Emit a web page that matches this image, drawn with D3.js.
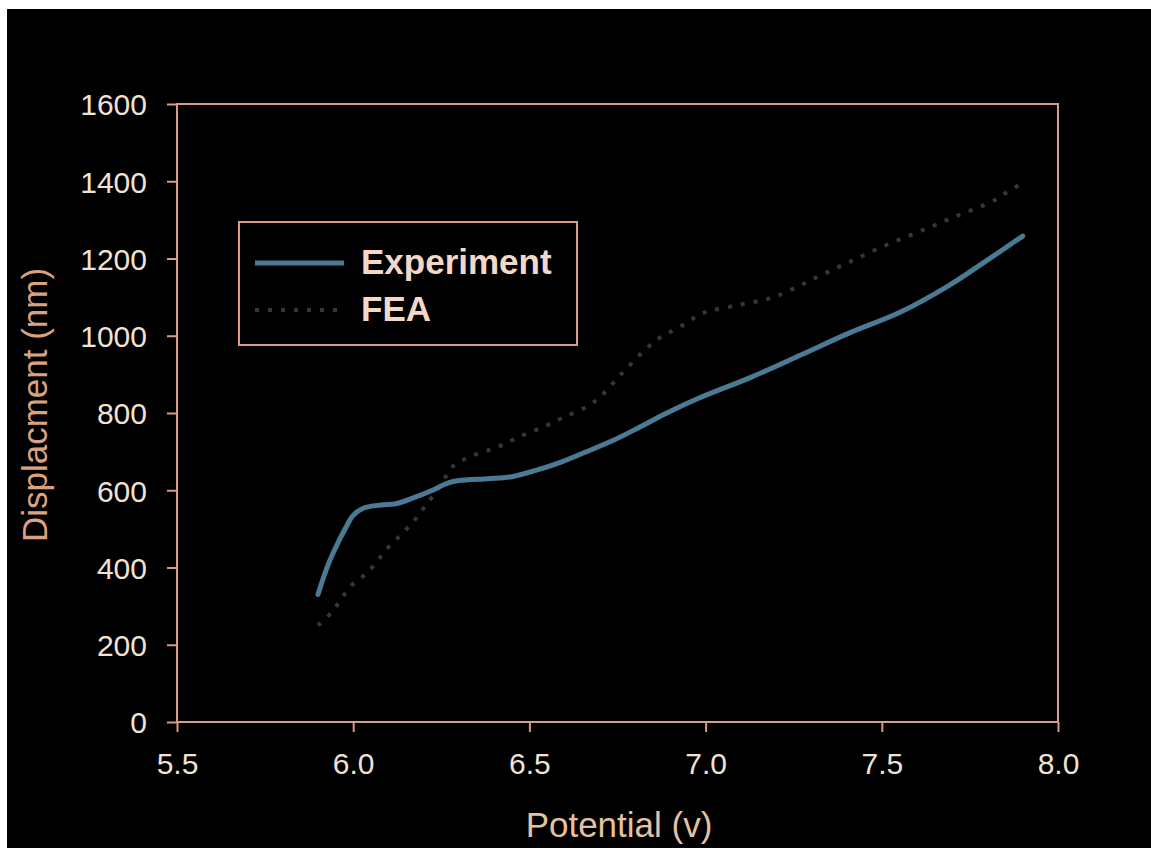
<!DOCTYPE html>
<html>
<head>
<meta charset="utf-8">
<script src="https://cdn.jsdelivr.net/npm/d3@7"></script>
<style>
  body { margin: 0; background: #fff; }
  svg { display: block; }
  text { font-family: "Liberation Sans", Arial, sans-serif; }
</style>
</head>
<body>
<script>
// data
const xTicks = [5.5, 6.0, 6.5, 7.0, 7.5, 8.0]
const yTicks = [0, 200, 400, 600, 800, 1000, 1200, 1400, 1600]

const expX = [5.90, 5.93, 5.96, 5.98, 6.00, 6.03, 6.08, 6.12, 6.17, 6.22, 6.27, 6.30, 6.38, 6.45, 6.52, 6.59, 6.66, 6.74, 6.81, 6.89, 6.98, 7.13, 7.27, 7.41, 7.55, 7.69, 7.79, 7.90]
const expY = [330, 410, 470, 505, 535, 554, 562, 565, 580, 598, 619, 625, 630, 635, 652, 673, 699, 730, 762, 800, 838, 893, 950, 1008, 1060, 1130, 1190, 1258]

const feaX = [5.90, 5.94, 5.97, 6.00, 6.04, 6.07, 6.10, 6.14, 6.17, 6.20, 6.25, 6.28, 6.34, 6.41, 6.47, 6.54, 6.60, 6.67, 6.71, 6.76, 6.83, 6.87, 6.91, 6.95, 6.98, 7.02, 7.09, 7.16, 7.20, 7.27, 7.34, 7.42, 7.50, 7.58, 7.64, 7.69, 7.74, 7.79, 7.83, 7.86, 7.90]
const feaY = [250, 285, 324, 358, 386, 419, 453, 489, 518, 554, 615, 660, 690, 712, 738, 764, 790, 820, 850, 900, 965, 995, 1015, 1035, 1054, 1066, 1079, 1092, 1102, 1131, 1162, 1196, 1230, 1260, 1282, 1302, 1320, 1338, 1356, 1375, 1395]

const seriesNames = ["Experiment", "FEA"]

const W = 1151, H = 848
const margin = {top: 104, right: 93, bottom: 126, left: 177}

const frameColor = "#d99a88"
const tickText = "#f0e2d6"
const expColor = "#4b7b94"
const feaColor = "#363636"

const svg = d3.select("body").append("svg")
  .attr("width", W).attr("height", H)

// black slide area, white strip top/left like the scan
svg.append("rect").attr("x", 7).attr("y", 9).attr("width", W).attr("height", H).attr("fill", "#000")

const x = d3.scaleLinear().domain([5.5, 8.0]).range([margin.left, W - margin.right])
const y = d3.scaleLinear().domain([0, 1600]).range([H - margin.bottom, margin.top])

// frame
svg.append("rect")
  .attr("x", x(5.5)).attr("y", y(1600))
  .attr("width", x(8.0) - x(5.5)).attr("height", y(0) - y(1600))
  .attr("fill", "none").attr("stroke", frameColor).attr("stroke-width", 2)

const yAxis = d3.axisLeft(y).tickValues(yTicks).tickSize(10).tickPadding(20).tickFormat(d3.format("d"))
const gy = svg.append("g").attr("transform", "translate(" + x(5.5) + ",0)").call(yAxis)
gy.select(".domain").remove()
gy.selectAll("line").attr("stroke", frameColor).attr("stroke-width", 2)
gy.selectAll("text").attr("fill", tickText).style("font-size", "30px").attr("dy", "0.36em")

const xAxis = d3.axisBottom(x).tickValues(xTicks).tickSize(10).tickPadding(21).tickFormat(d3.format(".1f"))
const gx = svg.append("g").attr("transform", "translate(0," + y(0) + ")").call(xAxis)
gx.select(".domain").remove()
gx.selectAll("line").attr("stroke", frameColor).attr("stroke-width", 2)
gx.selectAll("text").attr("fill", tickText).style("font-size", "30px")

// titles
svg.append("text")
  .attr("x", 619).attr("y", 837)
  .attr("text-anchor", "middle")
  .attr("fill", "#e3c2a2")
  .style("font-size", "35px")
  .text("Potential (v)")

svg.append("text")
  .attr("transform", "translate(47,405) rotate(-90)")
  .attr("text-anchor", "middle")
  .attr("fill", "#d9a383")
  .style("font-size", "35px")
  .text("Displacment (nm)")

// lines
const line = d3.line()
  .x(d => x(d[0])).y(d => y(d[1]))
  .curve(d3.curveCatmullRom.alpha(0.5))

const feaPts = feaX.map((v, i) => [v, feaY[i]])
const expPts = expX.map((v, i) => [v, expY[i]])

svg.append("path")
  .datum(feaPts)
  .attr("d", line)
  .attr("fill", "none")
  .attr("stroke", feaColor)
  .attr("stroke-width", 4)
  .attr("stroke-dasharray", "4 9")

svg.append("path")
  .datum(expPts)
  .attr("d", line)
  .attr("fill", "none")
  .attr("stroke", expColor)
  .attr("stroke-width", 5)
  .attr("stroke-linecap", "round")

// legend
const lg = svg.append("g")
lg.append("rect")
  .attr("x", 239).attr("y", 222).attr("width", 338).attr("height", 123)
  .attr("fill", "#000").attr("stroke", frameColor).attr("stroke-width", 2)

const legendRows = lg.selectAll(".row")
  .data(seriesNames)
  .enter().append("g")
  .attr("class", "row")
  .attr("transform", (d, i) => "translate(0," + (i * 47) + ")")

legendRows.append("line")
  .attr("x1", 255).attr("x2", 344)
  .attr("y1", 263).attr("y2", 263)
  .attr("stroke", (d, i) => i === 0 ? expColor : feaColor)
  .attr("stroke-width", (d, i) => i === 0 ? 5 : 4)
  .attr("stroke-dasharray", (d, i) => i === 0 ? null : "4 9")

legendRows.append("text")
  .attr("x", 361).attr("y", 274)
  .attr("fill", "#f3d8c8")
  .style("font-size", "35px")
  .style("font-weight", "bold")
  .text(d => d)
</script>
</body>
</html>
